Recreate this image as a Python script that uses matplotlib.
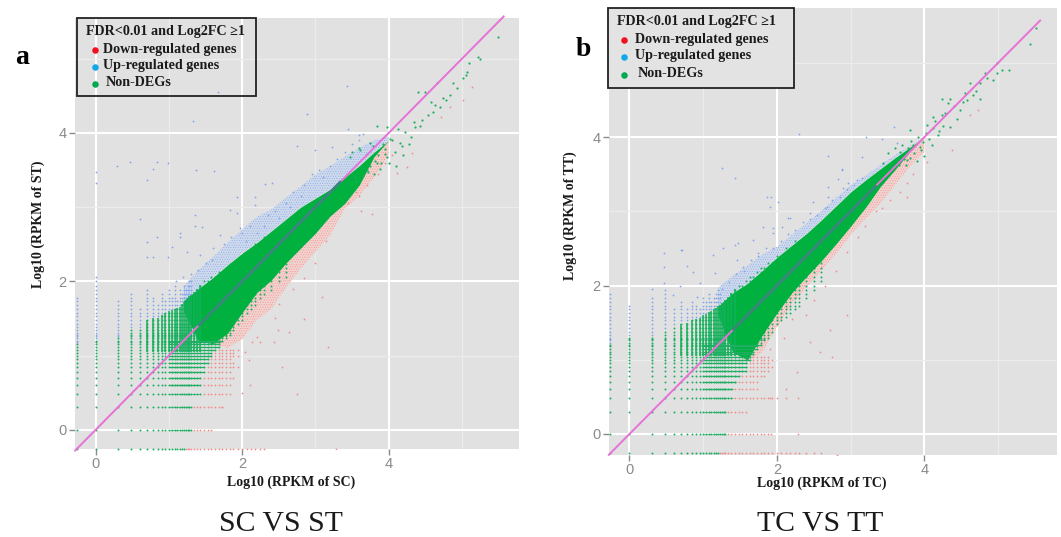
import matplotlib
matplotlib.use('Agg')
import matplotlib.pyplot as plt
from matplotlib.patches import Rectangle

plt.rcParams['hatch.linewidth'] = 0.3

# discrete log10 levels, both axes
levels = [-0.26, 0, .30, .48, .60, .70, .78, .85, .90, .95, 1.0, 1.04, 1.08, 1.11, 1.15, 1.18, 1.20, 1.23, 1.26, 1.28, 1.30,
          1.34, 1.38, 1.43, 1.48, 1.53, 1.58, 1.63, 1.68, 1.73, 1.78, 1.83, 1.88, 1.94, 2.0, 2.06, 2.12, 2.18, 2.24, 2.3, 2.4, 2.5, 2.6]

line_x = [-0.29, 5.58]
line_mid_x = [1.4, 3.35]
band_x = [1.2, 1.4, 1.6, 1.8, 2.0, 2.2, 2.4, 2.6, 2.8, 3.0, 3.2, 3.4, 3.6, 3.8, 4.0]

# panel a
a_col_top = [1.15, 1.2, 1.25, 1.35, 1.35, 1.48, 1.5, 1.5, 1.55, 1.58, 1.6, 1.62, 1.63, 1.64, 1.66, 1.7, 1.72, 1.75, 1.78, 1.8, 1.82,
             1.85, 1.9, 1.95, 2.0, 2.05, 2.1, 2.1, 2.13, 2.17, 2.2, 2.25, 2.28, 2.33, 2.38, 2.43, 2.48, 2.52, 2.56, 2.6, 2.6, 2.6, 2.6]
a_blue_top = [1.78, 2.06, 1.73, 1.83, 1.63, 1.88, 1.78, 1.68, 1.83, 1.73, 1.88, 1.78, 1.94, 1.73, 1.88, 1.83, 1.94, 1.88, 1.94, 2.0, 2.0,
              0, 0, 0, 0, 0, 0, 0, 0, 0, 0, 0, 0, 0, 0, 0, 0, 0, 0, 0, 0, 0, 0]
a_row_reach = [1.2, 1.3, 1.3, 1.43, 1.43, 1.43, 1.48, 1.48, 1.53, 1.53, 1.58, 1.58, 1.63, 1.68, 1.68, 1.7, 1.73, 1.78, 1.78, 1.83, 1.83,
               1.88, 1.88, 1.94, 2.0, 2.0, 2.06, 2.12, 2.18, 2.18, 2.24, 2.3, 2.4, 2.4, 2.5, 2.6, 2.6, 2.6, 2.6, 2.6, 2.6, 2.6, 2.6]
a_red_reach = [2.3, 1.6, 1.75, 1.85, 1.85, 1.9, 1.85, 1.94, 1.9, 1.85, 1.94, 1.9, 1.94, 0, 0, 0, 0, 0, 0, 0, 0,
               0, 0, 0, 0, 0, 0, 0, 0, 0, 0, 0, 0, 0, 0, 0, 0, 0, 0, 0, 0, 0, 0]
a_green_hi = [1.74, 1.9, 2.05, 2.22, 2.38, 2.52, 2.68, 2.84, 3.0, 3.12, 3.24, 3.4, 3.56, 3.74, 3.9]
a_green_lo = [1.6, 1.2, 1.16, 1.3, 1.58, 1.85, 2.02, 2.25, 2.45, 2.65, 2.88, 3.05, 3.3, 3.68, 3.9]
a_blue_hi = [1.93, 2.15, 2.33, 2.52, 2.7, 2.87, 2.97, 3.13, 3.28, 3.44, 3.55, 3.68, 3.8, 3.9, 3.95]
a_red_lo = [1.6, 1.2, 1.16, 1.1, 1.22, 1.48, 1.63, 1.92, 2.17, 2.4, 2.62, 2.98, 3.15, 3.4, 3.7]
a_up_x = [1.67, 1.33, 2.75, 0, 0, .29, .47, .78, .84, .99, 1.37, 1.62, .7, 2.31, 2.41, 1.93, 2.18, 3.43, 2.89, 3.45, 3.0, 3.23, 3.59,
          1.83, 1.93, 2.18, .61, 1.36, 1.36, 1.45, 1.15, 1.15, .84, 1.7, 1.97, .7, .7, .78, .99, 1.25, 1.42, 1.59, 1.04, 1.19,
          2.0, 2.1, 2.3, 2.45, 2.6, 2.7, 2.85, 2.95, 3.05, 3.2, 3.3, 3.4, 3.5, 3.6, 3.65, 1.5, 1.6, 1.75, 1.85, 2.05, 2.2, 2.35, 1.3, 1.4, 1.1, 2.5, 2.65, 2.8, 3.1]
a_up_y = [4.55, 4.16, 3.82, 3.47, 3.32, 3.55, 3.61, 3.51, 3.61, 3.59, 3.5, 3.49, 3.37, 3.31, 3.32, 3.14, 3.14, 4.63, 4.25, 4.05, 3.77, 3.81, 3.97,
          2.96, 2.92, 3.03, 2.84, 2.89, 2.75, 2.73, 2.65, 2.6, 2.6, 2.62, 2.72, 2.53, 2.33, 2.33, 2.33, 2.39, 2.35, 2.29, 2.46, 2.06,
          2.65, 2.75, 2.75, 2.95, 3.05, 3.2, 3.3, 3.45, 3.5, 3.55, 3.65, 3.75, 3.85, 3.9, 3.98, 2.25, 2.45, 2.5, 2.6, 2.55, 2.65, 2.9, 2.1, 2.15, 2.0, 2.85, 3.0, 3.15, 3.4]
a_down_x = [3.09, 2.85, 2.49, 2.64, 3.17, 2.54, 2.75, 2.13, 2.25, 2.43, 2.04, 2.09, 2.11, 2.0, 1.72, 3.28, 4.11, 3.62, 3.77, 4.25, 4.32, 4.71, 5.02, 5.14, 4.84,
            3.45, 3.55, 3.7, 3.85, 3.95, 4.05, 3.6, 2.2, 2.45, 2.5, 2.7, 2.85, 3.0, 3.15]
a_down_y = [1.79, 1.49, 1.34, 1.32, 1.12, .84, .48, 1.18, 1.18, 1.18, 1.05, .94, .6, .49, .3, -.26, 3.46, 2.95, 2.91, 3.54, 3.73, 4.21, 4.45, 4.62, 4.35,
            3.05, 3.2, 3.3, 3.45, 3.6, 3.7, 3.15, 1.25, 1.5, 1.7, 1.9, 2.05, 2.25, 2.55]
a_non_x = [5.5, 5.22, 5.07, 5.02, 4.93, 4.84, 4.74, 4.66, 4.88, 4.4, 4.5, 4.63, 4.54, 4.36, 4.22, 4.13, 3.98, 3.84, 4.05, 4.43, 4.15, 3.95, 3.75, 3.61, 3.47, 3.98, 3.84, 3.7, 3.54,
           3.5, 3.55, 3.6, 3.65, 3.7, 3.72, 3.75, 3.78, 3.8, 3.82, 3.85, 3.88, 3.9, 3.92, 3.95, 4.0, 4.02, 4.08, 4.1, 4.18, 4.2, 4.28, 4.3, 4.34, 4.45, 4.58, 4.6, 4.7, 4.78, 5.05, 5.1, 5.25]
a_non_y = [5.29, 5.02, 4.82, 4.74, 4.6, 4.51, 4.47, 4.67, 4.67, 4.55, 4.55, 4.38, 4.24, 4.08, 4.01, 4.06, 4.08, 4.09, 3.9, 4.1, 3.86, 3.79, 3.86, 3.77, 3.68, 3.68, 3.59, 3.5, 3.41,
           3.75, 3.35, 3.8, 3.42, 3.72, 3.48, 3.56, 3.82, 3.45, 3.62, 3.7, 3.52, 3.6, 3.85, 3.72, 3.6, 3.92, 3.75, 3.55, 3.82, 3.7, 3.85, 3.95, 4.15, 4.18, 4.42, 4.28, 4.35, 4.45, 4.78, 4.95, 5.0]

# panel b
b_col_top = [1.2, 1.3, 1.3, 1.4, 1.47, 1.48, 1.5, 1.54, 1.55, 1.56, 1.6, 1.62, 1.64, 1.66, 1.68, 1.7, 1.72, 1.74, 1.76, 1.78, 1.8,
             1.85, 1.9, 1.95, 2.0, 2.05, 2.1, 2.13, 2.17, 2.2, 2.25, 2.28, 2.33, 2.38, 2.43, 2.48, 2.52, 2.56, 2.6, 2.6, 2.6, 2.6, 2.6]
b_blue_top = [1.88, 1.73, 1.83, 1.94, 1.68, 1.78, 1.68, 1.78, 1.73, 1.68, 1.83, 1.78, 1.88, 1.78, 1.83, 1.88, 1.94, 1.88, 0, 0, 0,
              0, 0, 0, 0, 0, 0, 0, 0, 0, 0, 0, 0, 0, 0, 0, 0, 0, 0, 0, 0, 0, 0]
b_row_reach = [1.2, 1.3, 1.3, 1.4, 1.4, 1.45, 1.48, 1.58, 1.6, 1.6, 1.63, 1.63, 1.68, 1.68, 1.73, 1.73, 1.78, 1.78, 1.83, 1.83, 1.88,
               1.88, 1.94, 1.94, 2.0, 2.06, 2.12, 2.18, 2.24, 2.3, 2.3, 2.4, 2.4, 2.5, 2.5, 2.6, 2.6, 2.6, 2.6, 2.6, 2.6, 2.6, 2.6]
b_red_reach = [2.6, 1.9, 1.6, 2.0, 1.73, 1.73, 1.83, 1.88, 1.94, 1.88, 1.94, 1.88, 0, 0, 0, 0, 0, 0, 0, 0, 0,
               0, 0, 0, 0, 0, 0, 0, 0, 0, 0, 0, 0, 0, 0, 0, 0, 0, 0, 0, 0, 0, 0]
b_green_hi = [1.72, 1.9, 2.03, 2.2, 2.38, 2.54, 2.7, 2.88, 3.07, 3.26, 3.42, 3.57, 3.72, 3.86, 4.0]
b_green_lo = [1.6, 1.1, 1.0, 1.33, 1.63, 1.9, 2.12, 2.33, 2.56, 2.8, 3.05, 3.33, 3.56, 3.8, 4.0]
b_blue_hi = [1.97, 2.13, 2.27, 2.42, 2.52, 2.68, 2.84, 3.0, 3.18, 3.35, 3.48, 3.62, 3.76, 3.88, 4.0]
b_red_lo = [1.6, 1.1, .98, 1.1, 1.44, 1.75, 1.98, 2.2, 2.42, 2.68, 2.9, 3.1, 3.35, 3.6, 3.8]
b_up_x = [2.3, 1.25, 1.43, 1.86, 1.92, 1.91, 2.01, 2.15, .47, .7, .47, .47, .78, .86, 1.13, 1.27, 1.43, 1.68, 1.74, 1.95, 2.07, 1.46, 1.54, 1.16, .96, .69, .3, .59, .91,
          3.59, 3.21, 3.43, 3.63, 2.69, 3.15, 2.88, 2.83, 2.96, 3.08, 2.69, 2.9, 2.69, 2.49, 2.68, 2.45, 2.88, 2.18, 1.95, 1.81, 1.47, .71,
          1.25, 1.35, 1.45, 1.55, 1.65, 1.75, 1.85, 1.95, 2.05, 2.15, 2.25, 2.35, 2.45, 2.55, 2.65, 2.75, 2.85, 2.95, 3.05, 3.15]
b_up_y = [4.04, 3.58, 3.45, 3.19, 3.19, 3.06, 3.12, 2.91, 2.44, 2.48, 2.25, 2.03, 2.26, 2.18, 2.41, 2.5, 2.55, 2.61, 2.44, 2.71, 2.79, 2.34, 2.25, 2.17, 2.03, 2.0, 1.96, 1.87, 1.85,
          4.13, 4.0, 3.97, 3.92, 3.74, 3.73, 3.56, 3.43, 3.38, 3.42, 3.33, 3.31, 3.19, 3.12, 3.06, 2.98, 3.57, 2.91, 2.77, 2.79, 2.57, 2.48,
          1.95, 2.05, 2.15, 2.2, 2.35, 2.4, 2.5, 2.5, 2.6, 2.7, 2.75, 2.85, 2.9, 2.95, 3.05, 3.15, 3.2, 3.3, 3.35, 3.45]
b_down_x = [2.95, 2.72, 2.58, 2.45, 2.75, 2.27, 2.12, 2.29, 2.13, 1.9, 1.92, 2.28, 2.81, 4.38, 4.73, 4.62, 4.04, 3.85, 3.76, 3.67, 3.53, 3.43, 3.76,
            1.9, 2.1, 2.2, 2.4, 2.5, 2.65, 2.8, 2.95, 3.1, 3.2, 3.35]
b_down_y = [1.6, 1.4, 1.1, 1.24, 1.04, .84, .6, .49, .49, .49, 0, 0, -.28, 3.82, 4.36, 4.3, 3.66, 3.51, 3.19, 3.26, 3.15, 3.04, 3.38,
            1.15, 1.3, 1.55, 1.6, 1.8, 2.0, 2.2, 2.45, 2.65, 2.8, 3.0]
b_non_x = [5.51, 5.43, 5.15, 4.98, 4.98, 4.93, 4.82, 4.76, 4.62, 4.66, 4.55, 4.76, 4.35, 4.24, 4.48, 4.32, 4.24, 4.12, 4.04, 4.12, 4.35, 4.19, 3.98, 3.81, 3.85, 3.94, 3.67, 3.51, 3.76, 3.58, 3.44,
           3.6, 3.65, 3.7, 3.72, 3.75, 3.78, 3.8, 3.82, 3.86, 3.9, 3.92, 3.96, 4.0, 4.02, 4.06, 4.1, 4.15, 4.2, 4.25, 4.28, 4.4, 4.45, 4.52, 4.58, 4.7, 4.85, 5.05]
b_non_y = [5.47, 5.25, 4.9, 5.0, 4.86, 4.77, 4.86, 4.73, 4.73, 4.57, 4.59, 4.52, 4.52, 4.52, 4.36, 4.46, 4.3, 4.27, 4.16, 4.12, 4.13, 4.03, 3.93, 4.09, 3.89, 3.87, 3.8, 3.78, 3.69, 3.6, 3.65,
           3.85, 3.62, 3.9, 3.7, 3.62, 3.85, 3.72, 3.95, 3.78, 3.68, 4.0, 3.82, 3.75, 4.05, 3.98, 3.9, 4.22, 4.08, 4.15, 4.32, 4.42, 4.25, 4.48, 4.5, 4.62, 4.8, 4.9]

GREEN = '#00b140'
BLUE = '#7fa5e6'
RED = '#f58a8a'
W, H = 1061, 537
SERIF = 'Liberation Serif'

fig = plt.figure(figsize=(W / 100, H / 100), dpi=100, facecolor='white')


def draw_panel(box, xlim, ylim, col_top, blue_top, row_reach, red_reach, green_hi, green_lo, blue_hi, red_lo,
               up_x, up_y, down_x, down_y, non_x, non_y):
    l, t, r, b = box
    ax = fig.add_axes([l / W, 1 - b / H, (r - l) / W, (b - t) / H])
    ax.set_facecolor('#e1e1e1')
    ax.set_xlim(xlim)
    ax.set_ylim(ylim)
    for s in ax.spines.values():
        s.set_visible(False)
    ax.set_xticks([0, 2, 4])
    ax.set_yticks([0, 2, 4])
    ax.set_xticks([1, 3, 5], minor=True)
    ax.set_yticks([1, 3, 5], minor=True)
    ax.grid(which='major', color='white', lw=1.5)
    ax.grid(which='minor', color='#ececec', lw=0.9)
    ax.set_axisbelow(True)
    ax.tick_params(which='major', length=4, width=1, color='#8a8a8a', labelcolor='#8a8a8a', labelsize=10.5, pad=2)
    ax.tick_params(which='minor', length=0)
    for lab in ax.get_xticklabels() + ax.get_yticklabels():
        lab.set_fontfamily('Liberation Sans')

    # stippled bands either side of the cloud
    ax.fill_between(band_x, green_hi, blue_hi, facecolor='#cfd9ec', edgecolor=BLUE, hatch='.......', lw=0)
    ax.fill_between(band_x, red_lo, green_lo, facecolor='#f0d2cf', edgecolor=RED, hatch='.......', lw=0)
    ax.scatter(up_x, up_y, s=1.6, color=BLUE, lw=0)
    ax.scatter(down_x, down_y, s=1.6, color=RED, lw=0)

    # points on the discrete count levels
    gx, gy, ux, uy, dx, dy = [], [], [], [], [], []
    for i, x in enumerate(levels):
        for j, y in enumerate(levels):
            if y <= col_top[i] and x <= row_reach[j]:
                gx.append(x)
                gy.append(y)
            elif y > col_top[i] and y <= blue_top[i]:
                ux.append(x)
                uy.append(y)
            elif y <= col_top[i] and x <= red_reach[j]:
                dx.append(x)
                dy.append(y)
    ax.scatter(ux, uy, s=1.6, color=BLUE, lw=0, clip_on=False)
    ax.scatter(dx, dy, s=1.6, color=RED, lw=0, clip_on=False)
    ax.scatter(gx, gy, s=2, color='#1fae62', lw=0, clip_on=False)

    # the levels merge into solid bars where counts get dense
    ax.vlines(levels[5:24], 1.05, col_top[5:24], color='#12b05a', lw=1.1)
    ax.hlines(levels[4:17], 1.0, row_reach[4:17], color='#1fae62', lw=0.9)
    ax.hlines(levels[1:4], 1.0, row_reach[1:4], color='#1fae62', lw=0.6, alpha=0.7)

    ax.fill_between(band_x, green_lo, green_hi, color=GREEN, lw=0)
    ax.scatter(non_x, non_y, s=2.5, color='#1fae62', lw=0)

    ax.plot(line_x, line_x, color='#e672d6', lw=1.4, clip_on=False, solid_capstyle='butt')
    ax.plot(line_mid_x, line_mid_x, color='#38857c', lw=2, solid_capstyle='butt')
    return ax


draw_panel((75, 18, 519, 449), (-0.283, 5.78), (-0.26, 5.55), a_col_top, a_blue_top, a_row_reach, a_red_reach,
           a_green_hi, a_green_lo, a_blue_hi, a_red_lo, a_up_x, a_up_y, a_down_x, a_down_y, a_non_x, a_non_y)
draw_panel((609, 8, 1057, 455), (-0.278, 5.80), (-0.283, 5.74), b_col_top, b_blue_top, b_row_reach, b_red_reach,
           b_green_hi, b_green_lo, b_blue_hi, b_red_lo, b_up_x, b_up_y, b_down_x, b_down_y, b_non_x, b_non_y)

# overlay in pixel coordinates for the pasted-on legends and captions
over = fig.add_axes([0, 0, 1, 1], zorder=5)
over.set_xlim(0, W)
over.set_ylim(H, 0)
over.axis('off')

legend_labels = ['Down-regulated genes', 'Up-regulated genes', 'Non-DEGs']
legend_colors = ['#f01020', '#10a8e8', '#00a850']


def draw_legend(x0, y0, x1, y1, opaque, title_x, text_x, non_x, dot_x, ys):
    over.add_patch(Rectangle((x0, y0), x1 - x0, y1 - y0, fc='#e3e3e3' if opaque else 'none', ec='#222222', lw=1.3))
    over.text(title_x, ys[0], 'FDR<0.01 and Log2FC \u22651', family=SERIF, weight='bold', fontsize=10.2, va='center', color='#1a1a1a')
    for k in range(3):
        tx = non_x if k == 2 else text_x
        over.text(tx, ys[k + 1], legend_labels[k], family=SERIF, weight='bold', fontsize=10.2, va='center', color='#1a1a1a')
        over.scatter([dot_x], [ys[k + 1] + 1], s=22, color=legend_colors[k], lw=0)


draw_legend(77, 18, 256, 96, False, 86, 103, 106, 94.5, [32, 49, 66, 83])
draw_legend(608, 8, 794, 88, True, 617, 635, 638, 623.7, [22, 39, 56, 73.5])

over.text(15, 58, 'a', family=SERIF, weight='bold', fontsize=20, va='center', color='black')
over.text(576, 49, 'b', family=SERIF, weight='bold', fontsize=20, va='center', color='black')
over.text(291, 482, 'Log10 (RPKM of SC)', family=SERIF, weight='bold', fontsize=10, ha='center', va='center', color='#1a1a1a')
over.text(822, 483, 'Log10 (RPKM of TC)', family=SERIF, weight='bold', fontsize=10, ha='center', va='center', color='#1a1a1a')
over.text(38, 224, 'Log10 (RPKM of ST)', family=SERIF, weight='bold', fontsize=10, rotation=90, ha='center', va='center', color='#1a1a1a')
over.text(570, 216, 'Log10 (RPKM of TT)', family=SERIF, weight='bold', fontsize=10, rotation=90, ha='center', va='center', color='#1a1a1a')
over.text(281, 524, 'SC VS ST', family=SERIF, fontsize=21.4, ha='center', va='center', color='#1a1a1a')
over.text(820, 524, 'TC VS TT', family=SERIF, fontsize=21.4, ha='center', va='center', color='#1a1a1a')

fig.savefig('out.png', dpi=100)
